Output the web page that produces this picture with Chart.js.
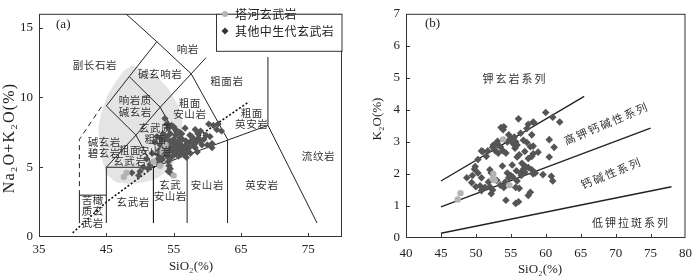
<!DOCTYPE html>
<html>
<head>
<meta charset="utf-8">
<script src="https://cdn.jsdelivr.net/npm/chart.js@4.4.0/dist/chart.umd.min.js"></script>
<style>
  html, body { margin: 0; padding: 0; background: #fff; }
  #wrap { position: relative; width: 700px; height: 276px; }
  .box { position: absolute; top: 0; width: 350px; height: 276px; }
</style>
</head>
<body>
<div id="wrap">
  <div class="box" style="left:0"><canvas id="tas"></canvas></div>
  <div class="box" style="left:350px"><canvas id="k2o"></canvas></div>
</div>
<script>
// ---- 数据 (a) TAS ----
const xTicksA = [35, 45, 55, 65, 75];
const yTicksA = [0, 5, 10, 15];

// 塔河玄武岩 (SiO2, Na2O+K2O)
const taheA = [[47.6,4.3],[48.0,4.6],[52.0,5.4],[53.0,5.1],[53.2,6.1],[55.0,4.4],[53.8,6.6]];
// 其他中生代玄武岩
const otherA = [
  [53.7,8.5],[54.0,8.1],[54.2,7.8],[54.7,8.0],[56.7,7.8],[58.2,7.7],[57.4,7.3],[58.7,7.1],
  [60.2,8.1],[60.9,8.0],[61.6,8.1],[61.4,7.7],[62.1,7.6],[60.4,7.2],[59.2,6.6],[60.7,6.4],
  [60.7,6.7],[58.9,6.9],[58.2,6.4],[57.7,7.2],[56.9,6.2],[56.0,7.1],[55.5,6.6],[54.7,6.2],
  [52.5,7.2],[52.2,6.8],[53.0,5.7],[54.2,5.4],[54.5,4.9],[54.7,4.5],[54.3,5.1],[54.2,4.7],
  [53.0,5.4],[51.2,4.9],[50.0,4.7],[49.8,4.4],[48.8,4.6],[50.5,5.0],[51.5,5.2],[52.5,5.5],
  [52.8,6.2],[53.0,6.6],[53.2,7.0],[53.4,7.4],[53.5,6.0],[53.7,6.4],[53.8,6.8],[54.0,7.2],
  [54.0,5.8],[54.2,6.1],[54.3,6.5],[54.4,6.9],[54.5,7.4],[54.6,5.7],[54.8,6.3],[54.9,6.7],
  [55.0,7.0],[55.1,5.9],[55.2,6.4],[55.3,7.3],[55.4,6.1],[55.6,6.8],[55.7,5.8],[55.8,6.3],
  [55.9,7.5],[56.0,6.0],[56.1,6.6],[56.3,7.0],[56.4,6.2],[56.5,5.9],[56.6,6.5],[56.8,6.9],
  [57.0,6.1],[57.1,6.7],[57.3,6.4],[57.5,6.0],[57.6,6.9],[57.9,6.6],[58.0,7.0],[58.4,6.8],
  [58.6,7.4],[59.0,7.6],[59.5,7.0],[59.8,7.3],[60.0,6.6],[55.3,7.7],[55.0,7.9],[56.2,7.4],
  [52.7,5.9],[53.3,5.6],[51.0,5.6],[51.8,6.0],[56.9,5.7],[58.5,6.1]
];
// 灰色范围
const blobA = [[48.8,12.3],[50.5,12.0],[52.5,11.5],[54.3,10.6],[55.6,9.5],[56.3,8.3],[56.2,7.0],
  [55.6,5.8],[54.5,4.9],[52.5,4.2],[50.5,3.9],[48.5,3.8],[46.5,3.9],[45.2,4.4],[44.5,5.3],
  [44.0,6.6],[43.8,7.8],[44.3,9.0],[45.2,10.2],[46.5,11.2],[47.6,11.9]];
// 分区界线
const linesA = [
  [[41,1],[41,3],[45,3]],
  [[45,1],[45,5],[52,5],[52,1]],
  [[52,5],[69,8],[76.3,1]],
  [[57,1],[57,5.9]],
  [[63,1],[63,7]],
  [[69,8],[69,12.9]],
  [[45,5],[49.4,7.3],[53,9.3],[57.6,11.7],[52.5,14],[47.9,16]],
  [[49.4,7.3],[52,5]],
  [[53,9.3],[57,5.9]],
  [[57.6,11.7],[63,7]],
  [[49.4,7.3],[45,9.4],[48.4,11.5],[52.5,14]],
  [[48.4,11.5],[53,9.3]],
  [[57.6,11.7],[59.8,12.85]]
];
const dashedA = [[41,3],[41,7],[44.5,9.5]];
const dottedA = [[40,0.3],[45,2.5],[52,5.0],[66.2,9.7]];
const namesA = [
  ['副长石岩',43.3,12.3],['响岩',57.1,13.5],['碱玄响岩',53.0,11.7],['粗面岩',62.9,11.2],
  ['响岩质\n碱玄岩',49.3,9.4],['粗面\n安山岩',57.4,9.2],['粗面\n英安岩',66.6,8.5],
  ['碱玄岩\n碧玄岩',44.7,6.4],['玄武质\n粗面\n安山岩',52.3,7.0],['粗面\n玄武岩',48.5,5.85],
  ['苦橄\n质玄\n武岩',43.0,1.85],['玄武岩',49.0,2.5],['玄武\n安山岩',54.5,3.35],
  ['安山岩',60.0,3.7],['英安岩',68.1,3.7],['流纹岩',76.5,5.8]
];

// ---- 数据 (b) K2O-SiO2 ----
const xTicksB = [40, 45, 50, 55, 60, 65, 70, 75, 80];
const yTicksB = [0, 1, 2, 3, 4, 5, 6, 7];
const taheB = [[47.4,1.2],[47.8,1.4],[52.5,2.0],[52.7,1.8],[53.9,3.08],[54.8,1.65],[52.4,1.85]];
const otherB = [
  [56.1,3.72],[58.2,3.62],[54.0,3.47],[53.9,3.38],[57.3,3.42],[54.7,3.22],[56.4,3.27],[58.0,3.22],
  [53.1,3.02],[55.7,3.0],[55.9,2.9],[55.6,2.8],[57.3,2.98],[58.2,2.87],[52.4,2.83],[51.7,2.72],
  [50.8,2.72],[52.8,2.72],[53.2,2.65],[53.9,2.72],[54.3,2.65],[58.2,2.63],[55.9,2.53],[57.5,2.48],
  [56.6,2.33],[55.2,2.28],[49.9,2.23],[50.3,2.03],[52.0,2.13],[57.1,2.23],[58.0,2.13],[58.2,2.0],
  [59.6,1.98],[48.7,1.88],[52.2,2.03],[50.8,1.88],[54.5,2.03],[54.7,1.88],[56.4,2.03],[57.0,2.05],
  [49.4,1.73],[50.6,1.63],[51.3,1.58],[52.0,1.6],[53.0,1.8],[55.9,1.78],[56.5,1.95],[50.8,1.48],
  [52.2,1.38],[54.0,1.58],[55.7,1.58],[57.5,1.33],[54.3,1.18],[55.7,1.08],[56.1,1.13],
  [60.0,3.92],[61.0,3.77],[62.0,3.62],[60.5,3.07],[61.2,2.83],[60.5,2.53],[60.8,1.93],[61.0,1.78],
  [58.9,2.68],[58.5,2.03],[57.8,1.43],
  [52.5,2.9],[53.0,2.95],[53.5,2.85],[54.5,3.0],[55.0,3.1],[55.3,2.95],[56.8,3.05],[57.0,2.7],
  [56.2,2.6],[51.5,2.55],[53.6,3.45],[55.5,3.15],[57.5,3.55],[58.3,3.6],[50.3,2.45],[51.0,2.7],
  [49.5,1.95],[49.8,2.15],[50.0,1.6],[51.8,1.75],[52.4,1.5],[53.5,1.65],[54.2,1.75],[55.3,1.9],
  [55.8,2.1],[56.8,2.15],[57.5,2.2],[53.8,2.25],[55.0,1.95],[56.2,1.55],[58.0,2.55],[57.8,2.85]
];
const linesB = [
  [[45,1.78],[65.5,4.42]],
  [[45,0.97],[75,3.43]],
  [[45,0.15],[78,1.6]]
];
const namesB = [
  ['钾玄岩系列',55.6,4.98,0],['高钾钙碱性系列',68.7,3.58,-23],
  ['钙碱性系列',69.4,2.03,-22],['低钾拉斑系列',72.2,0.47,0]
];

// ---- 公共 ----
const SERIF = '"Liberation Serif", "DejaVu Serif", serif';
const CJK = '"Noto Sans CJK SC", sans-serif';
const INK = '#222';
const xy = arr => arr.map(p => ({ x: p[0], y: p[1] }));

function lineSet(pts, extra) {
  return Object.assign({ data: xy(pts), showLine: true, borderColor: INK, borderWidth: 1,
    pointRadius: 0, fill: false, order: 2 }, extra || {});
}

function drawLabel(ctx, text, x, y, o) {
  ctx.save();
  ctx.translate(x, y);
  if (o.rot) ctx.rotate(o.rot * Math.PI / 180);
  ctx.font = o.font;
  ctx.fillStyle = o.color || INK;
  ctx.letterSpacing = (o.ls || 0) + 'px';
  ctx.textAlign = o.align || 'center';
  ctx.textBaseline = 'middle';
  const lines = text.split('\n');
  const lh = o.lh || 12;
  lines.forEach((l, i) => ctx.fillText(l, 0, (i - (lines.length - 1) / 2) * lh));
  ctx.restore();
}

// 边框 + 向内刻度
function frame(chart, xIn, yIn) {
  const { ctx, chartArea: a, scales } = chart;
  ctx.save();
  ctx.strokeStyle = '#333';
  ctx.lineWidth = 1;
  ctx.strokeRect(a.left + 0.5, a.top + 0.5, a.right - a.left - 1, a.bottom - a.top - 1);
  ctx.beginPath();
  xIn.forEach(v => {
    const p = Math.round(scales.x.getPixelForValue(v)) + 0.5;
    ctx.moveTo(p, a.bottom); ctx.lineTo(p, a.bottom - 4);
  });
  yIn.forEach(v => {
    const p = Math.round(scales.y.getPixelForValue(v)) + 0.5;
    ctx.moveTo(a.left, p); ctx.lineTo(a.left + 4, p);
  });
  ctx.stroke();
  ctx.restore();
}

function baseScales(xmin, xmax, xt, ymin, ymax, yt, yW, xH, xPad) {
  return {
    x: {
      type: 'linear', min: xmin, max: xmax,
      grid: { display: false, drawTicks: false },
      border: { display: false },
      afterBuildTicks: s => { s.ticks = xt.map(v => ({ value: v })); },
      afterFit: s => { s.height = xH; },
      ticks: { padding: xPad, color: INK, font: { family: SERIF, size: 13 }, maxRotation: 0 }
    },
    y: {
      type: 'linear', min: ymin, max: ymax,
      grid: { display: false, drawTicks: false },
      border: { display: false },
      afterBuildTicks: s => { s.ticks = yt.map(v => ({ value: v })); },
      afterFit: s => { s.width = yW; },
      ticks: { padding: 6, color: INK, font: { family: SERIF, size: 13 } }
    }
  };
}

const common = {
  responsive: true,
  maintainAspectRatio: false,
  animation: false,
  events: [],
  plugins: { legend: { display: false }, tooltip: { enabled: false } }
};

// ---- 图 (a) ----
const tasPlugin = {
  id: 'tasDecor',
  beforeDatasetsDraw(chart) {
    const { ctx, chartArea: a, scales } = chart;
    ctx.save();
    ctx.beginPath();
    ctx.rect(a.left, a.top, a.right - a.left, a.bottom - a.top);
    ctx.clip();
    ctx.beginPath();
    blobA.forEach((p, i) => {
      const X = scales.x.getPixelForValue(p[0]), Y = scales.y.getPixelForValue(p[1]);
      i ? ctx.lineTo(X, Y) : ctx.moveTo(X, Y);
    });
    ctx.closePath();
    ctx.fillStyle = '#e4e4e4';
    ctx.fill();
    ctx.restore();
  },
  afterDatasetsDraw(chart) {
    const { ctx, scales } = chart;
    namesA.forEach(n => {
      drawLabel(ctx, n[0], scales.x.getPixelForValue(n[1]), scales.y.getPixelForValue(n[2]),
        { font: '10.5px ' + CJK, ls: 0.6, lh: 11.5, color: '#333' });
    });
  },
  afterDraw(chart) {
    const { ctx, chartArea: a, scales } = chart;
    frame(chart, [45, 55, 65, 75], [5, 10, 15]);
    drawLabel(ctx, '(a)', scales.x.getPixelForValue(38.6), scales.y.getPixelForValue(15.2),
      { font: '13px ' + SERIF });
    // 图例
    ctx.save();
    ctx.fillStyle = '#fff';
    ctx.fillRect(216, a.top, a.right - 216, 37);
    ctx.strokeStyle = '#333';
    ctx.strokeRect(216.5, a.top + 0.5, a.right - 216.5, 37);
    ctx.fillStyle = '#b4b4b4';
    ctx.beginPath(); ctx.arc(225, 14, 3, 0, Math.PI * 2); ctx.fill();
    ctx.fillStyle = '#333';
    ctx.beginPath(); ctx.moveTo(225, 27.5); ctx.lineTo(228.5, 31); ctx.lineTo(225, 34.5); ctx.lineTo(221.5, 31); ctx.closePath(); ctx.fill();
    ctx.restore();
    drawLabel(ctx, '塔河玄武岩', 235, 14, { font: '12px ' + CJK, ls: 0.4, align: 'left' });
    drawLabel(ctx, '其他中生代玄武岩', 235, 31, { font: '12px ' + CJK, ls: 0.4, align: 'left' });
    // 坐标轴标题
    drawLabel(ctx, 'SiO₂(%)', 191, 267, { font: '13px ' + SERIF });
    drawLabel(ctx, 'Na₂O+K₂O(%)', 10, 138, { font: '16px ' + SERIF, rot: -90, ls: 1.2 });
  }
};

new Chart(document.getElementById('tas'), {
  type: 'scatter',
  data: {
    datasets: [
      { label: '塔河玄武岩', data: xy(taheA), pointStyle: 'circle', pointRadius: 3.2,
        backgroundColor: '#b4b4b4', borderWidth: 0, order: 0 },
      { label: '其他中生代玄武岩', data: xy(otherA), pointStyle: 'rectRot', pointRadius: 3.6,
        backgroundColor: '#555', borderWidth: 0, order: 1 },
      ...linesA.map(l => lineSet(l)),
      lineSet(dashedA, { borderDash: [5, 4] }),
      lineSet(dottedA, { borderDash: [2, 2], borderWidth: 1.6, borderColor: '#111' })
    ]
  },
  options: Object.assign({}, common, {
    layout: { padding: { top: 3, right: 8, left: 0, bottom: 0 } },
    scales: baseScales(35, 80, xTicksA, 0, 16, yTicksA, 39, 39, 5)
  }),
  plugins: [tasPlugin]
});

// ---- 图 (b) ----
const kPlugin = {
  id: 'kDecor',
  afterDatasetsDraw(chart) {
    const { ctx, scales } = chart;
    namesB.forEach(n => {
      drawLabel(ctx, n[0], scales.x.getPixelForValue(n[1]), scales.y.getPixelForValue(n[2]),
        { font: '11px ' + CJK, ls: 2, rot: n[3], color: '#333' });
    });
  },
  afterDraw(chart) {
    const { ctx, scales } = chart;
    frame(chart, [45, 50, 55, 60, 65, 70, 75], [1, 2, 3, 4, 5, 6]);
    drawLabel(ctx, '(b)', scales.x.getPixelForValue(43.8), scales.y.getPixelForValue(6.69),
      { font: '13px ' + SERIF });
    drawLabel(ctx, 'SiO₂(%)', 190, 270, { font: '13px ' + SERIF });
    drawLabel(ctx, 'K₂O(%)', 28, 119, { font: '13px ' + SERIF, rot: -90 });
  }
};

new Chart(document.getElementById('k2o'), {
  type: 'scatter',
  data: {
    datasets: [
      { label: '塔河玄武岩', data: xy(taheB), pointStyle: 'circle', pointRadius: 3.2,
        backgroundColor: '#b4b4b4', borderWidth: 0, order: 0 },
      { label: '其他中生代玄武岩', data: xy(otherB), pointStyle: 'rectRot', pointRadius: 3.8,
        backgroundColor: '#555', borderWidth: 0, order: 1 },
      ...linesB.map(l => lineSet(l, { borderWidth: 1.4 }))
    ]
  },
  options: Object.assign({}, common, {
    layout: { padding: { top: 3, right: 7, left: 0, bottom: 0 } },
    scales: baseScales(40, 80, xTicksB, 0, 7, yTicksB, 56, 38, 8)
  }),
  plugins: [kPlugin]
});
</script>
</body>
</html>
